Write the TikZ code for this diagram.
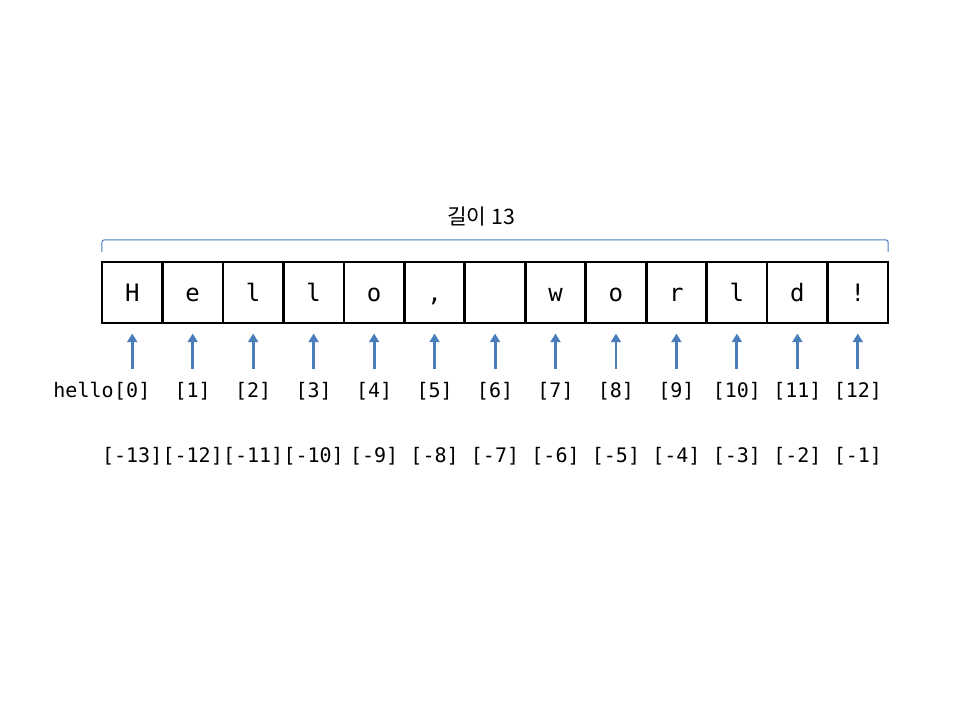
\documentclass[tikz,border=0pt]{standalone}
\usepackage{fontspec}
\setmonofont{DejaVu Sans Mono}
\newfontfamily\krfont{Noto Sans CJK KR}
\usetikzlibrary{positioning,arrows.meta}
\definecolor{arrowblue}{HTML}{4A7EBB}
\tikzset{
  cell/.style={draw,line width=2pt,minimum width=45.35pt,minimum height=45.75pt,
    inner sep=0pt,outer sep=0pt,font=\ttfamily\fontsize{18}{20}\selectfont,
    text height=13pt,text depth=0pt},
  idx/.style={inner sep=0pt,font=\ttfamily\fontsize{15}{17}\selectfont,
    text height=11pt,text depth=3.5pt},
  pointer/.style={arrowblue,line width=2.2pt,-{Triangle[width=7.5pt,length=6.5pt]},
    shorten <=10.7pt,shorten >=7.9pt},
  brk/.style={arrowblue,line width=0.75pt,rounded corners=1.5pt}
}

\begin{document}
\begin{tikzpicture}[x=0.75pt,y=-0.75pt]
\useasboundingbox (0,0) rectangle (960,720);
                   \node[cell] (c0) at (132.23,292.5) {H};
                   \node[cell] (c1) [right=0pt of c0] {e};
                   \node[cell] (c2) [right=0pt of c1] {l};
                   \node[cell] (c3) [right=0pt of c2] {l};
                   \node[cell] (c4) [right=0pt of c3] {o};
                   \node[cell] (c5) [right=0pt of c4] {,};
                   \node[cell] (c6) [right=0pt of c5] {};
                   \node[cell] (c7) [right=0pt of c6] {w};
                   \node[cell] (c8) [right=0pt of c7] {o};
                   \node[cell] (c9) [right=0pt of c8] {r};
                   \node[cell] (c10) [right=0pt of c9] {l};
                   \node[cell] (c11) [right=0pt of c10] {d};
                   \node[cell] (c12) [right=0pt of c11] {!};

                   \draw[brk] ([yshift=7.5pt]c0.north west) -- ([yshift=16.5pt]c0.north west)
                     -- ([yshift=16.5pt]c12.north east) -- ([yshift=7.5pt]c12.north east);
                   \node[font=\krfont\fontsize{16}{18}\selectfont] (len) at (481,217) {길이 13};

                   \node[idx] (i0) [below=44.9pt of c0] {[0]};
                   \node[idx] (arr) [left=0pt of i0] {hello};
                   \node[idx] (i1) [below=44.9pt of c1] {[1]};
                   \node[idx] (i2) [below=44.9pt of c2] {[2]};
                   \node[idx] (i3) [below=44.9pt of c3] {[3]};
                   \node[idx] (i4) [below=44.9pt of c4] {[4]};
                   \node[idx] (i5) [below=44.9pt of c5] {[5]};
                   \node[idx] (i6) [below=44.9pt of c6] {[6]};
                   \node[idx] (i7) [below=44.9pt of c7] {[7]};
                   \node[idx] (i8) [below=44.9pt of c8] {[8]};
                   \node[idx] (i9) [below=44.9pt of c9] {[9]};
                   \node[idx] (i10) [below=44.9pt of c10] {[10]};
                   \node[idx] (i11) [below=44.9pt of c11] {[11]};
                   \node[idx] (i12) [below=44.9pt of c12] {[12]};

                   \node[idx] (n0) [below=33.5pt of i0] {[-13]};
                   \node[idx] (n1) [below=33.5pt of i1] {[-12]};
                   \node[idx] (n2) [below=33.5pt of i2] {[-11]};
                   \node[idx] (n3) [below=33.5pt of i3] {[-10]};
                   \node[idx] (n4) [below=33.5pt of i4] {[-9]};
                   \node[idx] (n5) [below=33.5pt of i5] {[-8]};
                   \node[idx] (n6) [below=33.5pt of i6] {[-7]};
                   \node[idx] (n7) [below=33.5pt of i7] {[-6]};
                   \node[idx] (n8) [below=33.5pt of i8] {[-5]};
                   \node[idx] (n9) [below=33.5pt of i9] {[-4]};
                   \node[idx] (n10) [below=33.5pt of i10] {[-3]};
                   \node[idx] (n11) [below=33.5pt of i11] {[-2]};
                   \node[idx] (n12) [below=33.5pt of i12] {[-1]};

                    \path[pointer]
                    (i0) edge (c0)
                    (i1) edge (c1)
                    (i2) edge (c2)
                    (i3) edge (c3)
                    (i4) edge (c4)
                    (i5) edge (c5)
                    (i6) edge (c6)
                    (i7) edge (c7)
                    (i8) edge (c8)
                    (i9) edge (c9)
                    (i10) edge (c10)
                    (i11) edge (c11)
                    (i12) edge (c12)
					;
\end{tikzpicture}
\end{document}
